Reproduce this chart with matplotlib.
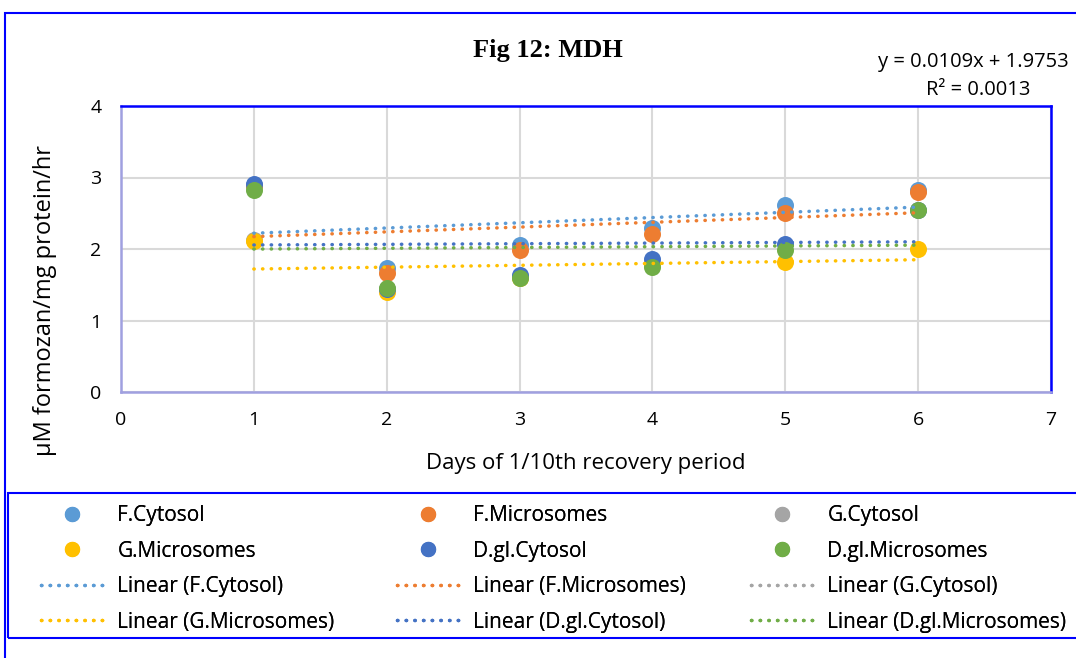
import numpy as np
import matplotlib
matplotlib.use("Agg")
import matplotlib.pyplot as plt
from matplotlib.lines import Line2D
from matplotlib.patches import Rectangle

plt.rcParams["font.family"] = ["Open Sans", "DejaVu Sans"]

days = [1, 2, 3, 4, 5, 6]

# values (G.Cytosol only has a point on day 1)
f_cytosol = [2.90, 1.73, 2.05, 2.29, 2.62, 2.83]
f_microsomes = [2.88, 1.66, 1.99, 2.21, 2.50, 2.80]
g_cytosol_days = [1]
g_cytosol = [2.13]
g_microsomes = [2.11, 1.40, 1.59, 1.79, 1.82, 2.00]
dgl_cytosol = [2.91, 1.44, 1.64, 1.86, 2.07, 2.55]
dgl_microsomes = [2.83, 1.45, 1.59, 1.75, 1.99, 2.55]

series = [
    ("F.Cytosol", days, f_cytosol, "#5B9BD5"),
    ("F.Microsomes", days, f_microsomes, "#ED7D31"),
    ("G.Cytosol", g_cytosol_days, g_cytosol, "#A5A5A5"),
    ("G.Microsomes", days, g_microsomes, "#FFC000"),
    ("D.gl.Cytosol", days, dgl_cytosol, "#4472C4"),
    ("D.gl.Microsomes", days, dgl_microsomes, "#70AD47"),
]

fig = plt.figure(figsize=(10.76, 6.58), dpi=100)
ax = fig.add_axes([121 / 1076, 1 - 392 / 658, 930 / 1076, 286 / 658])

dot = (0, (0.1, 2.4))
point_handles = []
line_handles = []
for name, x, y, color in series:
    ax.scatter(x, y, s=150, color=color, zorder=3, linewidths=0)
    point_handles.append(Line2D([], [], marker="o", ls="none", color=color,
                                markersize=10, label=name))
    if len(x) > 1:
        k, b = np.polyfit(x, y, 1)
        xs = np.array([min(x), max(x)])
        ax.plot(xs, k * xs + b, color=color, lw=2.5, ls=dot,
                dash_capstyle="round", zorder=4)
    line_handles.append(Line2D([], [], color=color, lw=2.5, ls=dot,
                               dash_capstyle="round", label=f"Linear ({name})"))

ax.set_xlim(0, 7)
ax.set_ylim(0, 4)
ax.set_xticks(range(0, 8))
ax.set_yticks(range(0, 5))
ax.grid(True, color="#D9D9D9", lw=1.5)
ax.set_axisbelow(True)
ax.tick_params(length=0, labelsize=14, pad=14)
for side in ["top", "right"]:
    ax.spines[side].set_color("#0000FF")
    ax.spines[side].set_linewidth(1.8)
for side in ["left", "bottom"]:
    ax.spines[side].set_color("#A0A0E0")
    ax.spines[side].set_linewidth(1.8)

ax.set_xlabel("Days of 1/10th recovery period", fontsize=16, labelpad=17)
ax.set_ylabel("μM formozan/mg protein/hr", fontsize=17)
ax.yaxis.set_label_coords(-0.069, 0.32)

fig.text(548 / 1076, 1 - 50 / 658, "Fig 12: MDH", ha="center", va="center",
         fontsize=19, fontweight="bold", family="Liberation Serif")
fig.text(1069 / 1076, 1 - 62 / 658, "y = 0.0109x + 1.9753", ha="right",
         va="center", fontsize=14.5)
fig.text(1031 / 1076, 1 - 90 / 658, "R² = 0.0013", ha="right",
         va="center", fontsize=14.5)

# outer chart border and legend frame
fig.patches.append(Rectangle((5 / 1076, -0.05), 1.1, 1 - 13 / 658 + 0.05,
                             transform=fig.transFigure, fill=False,
                             ec="#0000FF", lw=1.5))
fig.patches.append(Rectangle((8 / 1076, 1 - 638 / 658), 1.1, 145 / 658,
                             transform=fig.transFigure, fill=False,
                             ec="#0000FF", lw=1.5))

# one legend per column so they sit where excel put them
col_idx = [[0, 3], [1, 4], [2, 5]]
col_x = [41, 397, 751]
for c, x0 in zip(col_idx, col_x):
    handles = [point_handles[i] for i in c] + [line_handles[i] for i in c]
    leg = fig.legend(handles=handles, ncol=1, loc="upper left",
                     bbox_to_anchor=(x0 / 1076, 1 - 505 / 658),
                     fontsize=15, frameon=False, handlelength=3.0,
                     handletextpad=0.67, borderaxespad=0, borderpad=0,
                     labelspacing=0.7)
    fig.add_artist(leg)

fig.savefig("out.png", dpi=100)
